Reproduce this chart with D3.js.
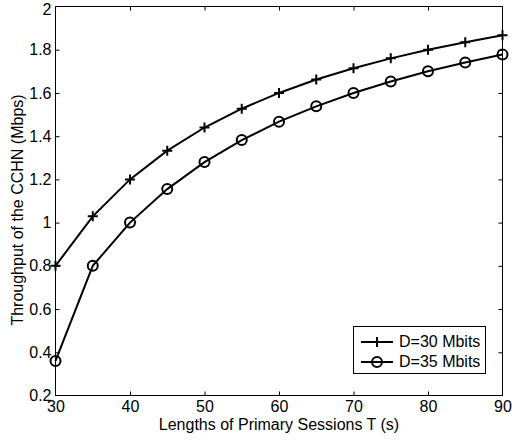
<!DOCTYPE html>
<html><head><meta charset="utf-8">
<script src="https://cdn.jsdelivr.net/npm/d3@7"></script>
<style>body{margin:0;background:#fff}svg{display:block}text{font-family:"Liberation Sans",Arial,sans-serif;fill:#000}</style>
</head><body><svg id="c" width="512" height="440"></svg>
<script>
const T = [30,35,40,45,50,55,60,65,70,75,80,85,90];
const d30 = [0.8,1.029,1.2,1.333,1.44,1.527,1.6,1.662,1.714,1.76,1.8,1.835,1.867];
const d35 = [0.36,0.8,1.0,1.155,1.28,1.382,1.467,1.538,1.6,1.653,1.7,1.741,1.778];
const xTicks = [30,40,50,60,70,80,90];
const yTicks = [0.2,0.4,0.6,0.8,1,1.2,1.4,1.6,1.8,2];
const seriesNames = ["D=30 Mbits","D=35 Mbits"];

const svg = d3.select("#c");
const L=55.5, R=502.5, Tp=6.5, B=395.5;
const x = d3.scaleLinear().domain([30,90]).range([L,R]);
const y = d3.scaleLinear().domain([0.2,2]).range([B,Tp]);
const fs = 16;

svg.append("rect").attr("x",L).attr("y",Tp).attr("width",R-L).attr("height",B-Tp).attr("fill","none").attr("stroke","#000").attr("stroke-width",1);

const gx = svg.append("g").attr("transform",`translate(0,${B})`)
  .call(d3.axisBottom(x).tickValues(xTicks).tickSize(-4).tickPadding(5.5).tickFormat(d3.format("d")));
const gxt = svg.append("g").attr("transform",`translate(0,${Tp})`)
  .call(d3.axisTop(x).tickValues(xTicks).tickSize(-4).tickFormat(""));
const gy = svg.append("g").attr("transform",`translate(${L},0)`)
  .call(d3.axisLeft(y).tickValues(yTicks).tickSize(-4).tickPadding(4).tickFormat(d=>String(+d.toFixed(1))));
const gyr = svg.append("g").attr("transform",`translate(${R},0)`)
  .call(d3.axisRight(y).tickValues(yTicks).tickSize(-4).tickFormat(""));
[gx,gxt,gy,gyr].forEach(g=>{g.select(".domain").remove();g.selectAll("line").attr("stroke","#000");g.selectAll("text").attr("font-size",fs).attr("font-family","Liberation Sans, Arial, sans-serif").attr("fill","#000");});
gy.selectAll("text").filter(d=>d===2).attr("dy","0.5em");
gx.selectAll("line").filter(d=>d===30||d===90).remove();
gxt.selectAll("line").filter(d=>d===30||d===90).remove();
gy.selectAll("line").filter(d=>d===0.2||d===2).remove();
gyr.selectAll("line").filter(d=>d===0.2||d===2).remove();

const line = d3.line().x((d,i)=>x(T[i])).y(d=>y(d));
svg.append("path").datum(d30).attr("d",line).attr("fill","none").attr("stroke","#000").attr("stroke-width",2);
svg.append("path").datum(d35).attr("d",line).attr("fill","none").attr("stroke","#000").attr("stroke-width",2);

function plus(g,cx,cy){g.append("path").attr("d",`M${cx-5},${cy}H${cx+5}M${cx},${cy-5}V${cy+5}`).attr("stroke","#000").attr("stroke-width",2);}
function circ(g,cx,cy){g.append("circle").attr("cx",cx).attr("cy",cy).attr("r",5).attr("fill","none").attr("stroke","#000").attr("stroke-width",2);}
const m = svg.append("g");
d30.forEach((v,i)=>plus(m,x(T[i]),y(v)));
d35.forEach((v,i)=>circ(m,x(T[i]),y(v)));

svg.append("text").attr("x",(L+R)/2).attr("y",430).attr("text-anchor","middle").attr("font-size",fs).text("Lengths of Primary Sessions T (s)");
svg.append("text").attr("transform",`translate(23,210) rotate(-90)`).attr("text-anchor","middle").attr("font-size",fs).text("Throughput of the CCHN (Mbps)");

const lg = svg.append("g");
lg.append("rect").attr("x",353.5).attr("y",326.5).attr("width",132).attr("height",47).attr("fill","#fff").attr("stroke","#000");
[0,1].forEach(i=>{
  const yy = 342 + i*20;
  lg.append("line").attr("x1",361).attr("x2",393).attr("y1",yy).attr("y2",yy).attr("stroke","#000").attr("stroke-width",2);
  if(i===0) plus(lg,377,yy); else circ(lg,377,yy);
  lg.append("text").attr("x",399).attr("y",yy+5).attr("font-size",fs).text(seriesNames[i]);
});
</script></body></html>
